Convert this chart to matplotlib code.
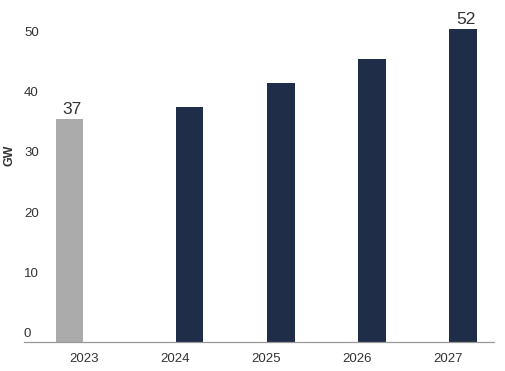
import matplotlib
matplotlib.use("Agg")
import matplotlib.pyplot as plt
import numpy as np

years = ["2023", "2024", "2025", "2026", "2027"]
actual = [37, None, None, None, None]
forecast = [None, 39, 43, 47, 52]
yticks = [0, 10, 20, 30, 40, 50]
label_years = {"2023": 37, "2027": 52}

GRAY = "#ababab"
NAVY = "#1f2d48"
TEXT = "#333333"

plt.rcParams["font.family"] = ["Liberation Sans", "DejaVu Sans"]

fig = plt.figure(figsize=(5.06, 3.71), dpi=100)
ax = fig.add_axes([24/506, 1-342/371, 470/506, 55*6.02/371])

x = np.arange(len(years))
w = 0.30
off = 0.16
for i, (a, f) in enumerate(zip(actual, forecast)):
    if a is not None:
        ax.bar(x[i] - off, a, width=w, color=GRAY)
    if f is not None:
        ax.bar(x[i] + off, f, width=w, color=NAVY)

for i, yr in enumerate(years):
    if yr in label_years:
        v = label_years[yr]
        xp = x[i] - off if actual[i] is not None else x[i] + off
        ax.text(xp + 0.03, v + 0.4, str(v), ha="center", va="bottom",
                fontsize=12.5, color=TEXT)

ax.set_xlim(-0.66, 4.5)
ax.set_ylim(0, 55)
ax.set_xticks(x)
ax.set_xticklabels(years, fontsize=9.5, color=TEXT)
ax.tick_params(axis="x", length=0, pad=8)
ax.set_yticks(yticks)
ax.set_yticklabels([str(t) for t in yticks], fontsize=9.5, color=TEXT)
ax.tick_params(axis="y", length=0, pad=0)
for lab in ax.get_yticklabels():
    lab.set_ha("left")
    lab.set_va("bottom")
    lab.set_x(0)
ax.yaxis.set_tick_params(direction="in")
import matplotlib.transforms as mtransforms
for lab in ax.get_yticklabels():
    lab.set_transform(lab.get_transform() + mtransforms.ScaledTranslation(0, 2/100, fig.dpi_scale_trans))

for s in ["top", "right", "left"]:
    ax.spines[s].set_visible(False)
ax.spines["bottom"].set_color("#999999")
ax.spines["bottom"].set_linewidth(0.9)

fig.text(10/506, 1-155/371, "GW", rotation=90, ha="center", va="center",
         fontsize=9, fontweight="bold", color=TEXT)

fig.savefig("out.png", dpi=100)
